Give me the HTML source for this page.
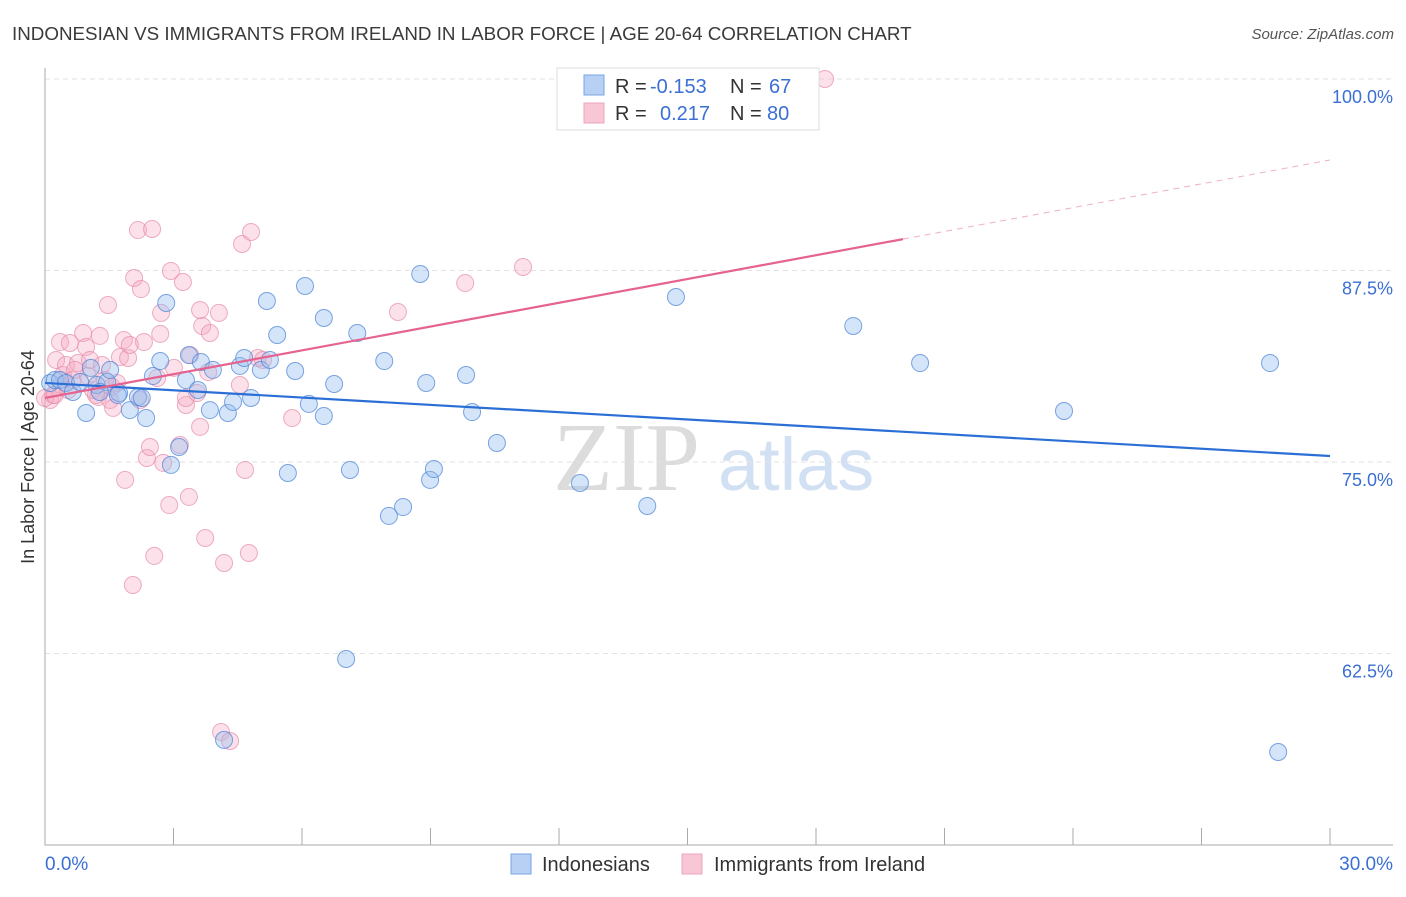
<!DOCTYPE html>
<html><head><meta charset="utf-8"><style>
body{margin:0;background:#fff;font-family:"Liberation Sans",sans-serif}
</style></head><body>
<svg id="chart" width="1406" height="892" xmlns="http://www.w3.org/2000/svg" font-family="Liberation Sans, sans-serif">
<text x="12" y="40" font-size="18.8" fill="#3a3a3a">INDONESIAN VS IMMIGRANTS FROM IRELAND IN LABOR FORCE | AGE 20-64 CORRELATION CHART</text>
<text x="1394" y="39" font-size="15" fill="#555" font-style="italic" text-anchor="end">Source: ZipAtlas.com</text>
<g>
<text x="553" y="490" font-size="98" fill="#dcdcdc" font-family="Liberation Serif, serif">ZIP</text>
<text x="718" y="490" font-size="74" fill="#d2e0f3">atlas</text>
</g>
<g id="grid"></g>
<g id="axes"></g>
<g id="points"></g>
<g id="lines"></g>
<text transform="translate(34,457) rotate(-90)" font-size="18" fill="#333" text-anchor="middle">In Labor Force | Age 20-64</text>
<text x="45" y="870" font-size="19" fill="#3b6fd4">0.0%</text>
<text x="1393" y="870" font-size="19" fill="#3b6fd4" text-anchor="end">30.0%</text>
<g>
<rect x="557" y="68" width="262" height="62" fill="#fff" stroke="#ddd"/>
<rect x="584" y="75" width="20" height="20" fill="#b7d0f3" stroke="#7aa5e3"/>
<rect x="584" y="103" width="20" height="20" fill="#f9c6d5" stroke="#eba5bd"/>
<text x="615" y="93" font-size="20" fill="#333">R =</text>
<text x="650" y="93" font-size="20" fill="#3b6fd4">-0.153</text>
<text x="730" y="93" font-size="20" fill="#333">N =</text>
<text x="769" y="93" font-size="20" fill="#3b6fd4">67</text>
<text x="615" y="120" font-size="20" fill="#333">R =</text>
<text x="660" y="120" font-size="20" fill="#3b6fd4">0.217</text>
<text x="730" y="120" font-size="20" fill="#333">N =</text>
<text x="767" y="120" font-size="20" fill="#3b6fd4">80</text>
</g>
<g>
<rect x="511" y="854" width="20" height="20" fill="#b7d0f3" stroke="#7aa5e3"/>
<text x="542" y="871" font-size="20" fill="#333">Indonesians</text>
</g>
<g>
<rect x="682" y="854" width="20" height="20" fill="#f9c6d5" stroke="#eba5bd"/>
<text x="714" y="871" font-size="20" fill="#333">Immigrants from Ireland</text>
</g>
</svg>
<script>
const yTicks=[100,87.5,75,62.5];
const yTickLabels=["100.0%","87.5%","75.0%","62.5%"];
const blueX=[0.12,0.23,0.35,0.49,0.65,0.96,0.82,1.07,1.21,1.45,1.52,1.73,1.98,2.17,2.36,2.52,2.69,2.83,2.94,3.13,3.29,3.36,3.57,3.64,3.85,3.92,4.27,4.39,4.55,4.65,4.81,5.04,5.18,5.25,5.42,5.67,5.84,6.07,6.16,6.51,6.51,6.75,7.03,7.12,7.29,7.92,8.03,8.36,8.76,8.90,8.99,9.08,9.83,9.97,10.55,12.49,14.06,14.73,18.87,20.43,23.79,28.60,28.79,4.18,2.26,1.70,1.28];
const blueY=[80.16,80.35,80.35,80.16,79.57,78.20,80.22,81.14,80.03,80.22,81.01,79.50,78.39,79.24,77.87,80.61,81.59,85.38,74.81,75.98,80.35,81.98,79.70,81.53,78.39,81.01,78.20,78.92,81.27,81.79,79.18,81.01,85.51,81.66,83.29,74.28,80.94,86.49,78.79,84.40,78.00,80.09,62.14,74.48,83.42,81.59,71.48,72.06,87.27,80.16,73.83,74.54,80.68,78.26,76.24,73.63,72.13,85.77,83.88,81.46,78.33,81.46,56.07,56.86,79.18,79.37,79.57];
const pinkX=[0.12,0.19,0.26,0.35,0.42,0.49,0.58,0.65,0.77,0.89,0.96,1.05,1.12,1.24,1.28,1.40,1.47,1.52,1.59,1.68,1.75,1.84,1.87,1.94,2.05,2.08,2.17,2.24,2.31,2.38,2.45,2.50,2.55,2.62,2.69,2.71,2.76,2.90,2.94,3.01,3.15,3.22,3.29,3.36,3.39,3.55,3.62,3.67,3.74,3.81,3.85,4.06,4.18,4.11,4.32,4.55,4.60,4.67,4.76,4.81,4.97,5.09,5.77,8.24,9.81,11.16,18.21,0.0,0.23,0.54,1.00,1.19,1.56,3.29,3.62,1.98,0.70,2.22,0.37,1.33];
const pinkY=[79.05,79.37,81.66,82.83,80.68,81.33,82.77,80.35,81.46,83.42,82.51,81.66,79.70,79.24,83.23,80.35,85.25,79.05,78.53,80.16,81.85,82.96,73.83,81.79,66.97,87.01,90.14,86.29,82.83,75.26,75.98,90.21,68.87,80.48,83.36,84.73,74.94,72.19,87.47,81.14,76.11,86.75,78.72,72.72,81.98,79.50,77.29,83.88,70.04,80.87,83.42,84.73,68.41,57.38,56.79,80.03,89.23,74.48,69.06,90.01,81.79,81.66,77.87,84.79,86.68,87.73,100.0,79.18,79.37,79.70,80.61,79.37,79.90,79.18,84.92,82.64,81.01,79.05,80.03,81.33];
const blueTrend=[80.16,75.39];
const pinkTrend=[79.18,94.71];
const pinkSolidEnd=20.03;

const NS="http://www.w3.org/2000/svg";
const X0=45,X1=1330,Y0=79,YPER=191.5/12.5;
const sx=v=>X0+v/30*(X1-X0);
const sy=v=>Y0+(100-v)*YPER;
function mk(tag,attrs,parent){const e=document.createElementNS(NS,tag);for(const k in attrs)e.setAttribute(k,attrs[k]);parent.appendChild(e);return e;}
const grid=document.getElementById('grid'),axes=document.getElementById('axes'),pts=document.getElementById('points'),lines=document.getElementById('lines');
yTicks.forEach((t,i)=>{
  const l=mk('line',{x1:X0,x2:1393,y1:sy(t),y2:sy(t),stroke:'#e2e2e2','stroke-dasharray':'5,4'},grid);
  
  
  const tx=mk('text',{x:1393,y:sy(t)+24,'font-size':18,fill:'#3b6fd4','text-anchor':'end'},grid);
  tx.textContent=yTickLabels[i];
  
  
});
const ax=mk('path',{d:`M${X0},68V845H1393`,stroke:'#aaa',fill:'none'},axes);


for(let k=1;k<=10;k++){
  const t=mk('line',{x1:sx(k*3),x2:sx(k*3),y1:828,y2:845,stroke:'#aaa'},axes);
  
  
}
function drawPts(xs,ys,fill,stroke,name){
  xs.forEach((x,i)=>{
    const c=mk('circle',{cx:sx(x),cy:sy(ys[i]),r:8.5,fill:fill,stroke:stroke,'stroke-width':1},pts);
    
    
  });
}
drawPts(pinkX,pinkY,'rgba(246,170,196,0.35)','rgba(230,140,170,0.7)','ireland-point');
drawPts(blueX,blueY,'rgba(150,190,240,0.4)','rgba(80,135,215,0.75)','indonesian-point');
const bl=mk('line',{x1:sx(0),y1:sy(blueTrend[0]),x2:sx(30),y2:sy(blueTrend[1]),stroke:'#2b6fd6','stroke-width':2.2},lines);


const py=x=>pinkTrend[0]+(pinkTrend[1]-pinkTrend[0])*x/30;
const pl=mk('line',{x1:sx(0),y1:sy(py(0)),x2:sx(pinkSolidEnd),y2:sy(py(pinkSolidEnd)),stroke:'#e5638e','stroke-width':2.2},lines);


const pd=mk('line',{x1:sx(pinkSolidEnd),y1:sy(py(pinkSolidEnd)),x2:sx(30),y2:sy(py(30)),stroke:'#eeb0c4','stroke-width':1,'stroke-dasharray':'6,5'},lines);


</script>
</body></html>
